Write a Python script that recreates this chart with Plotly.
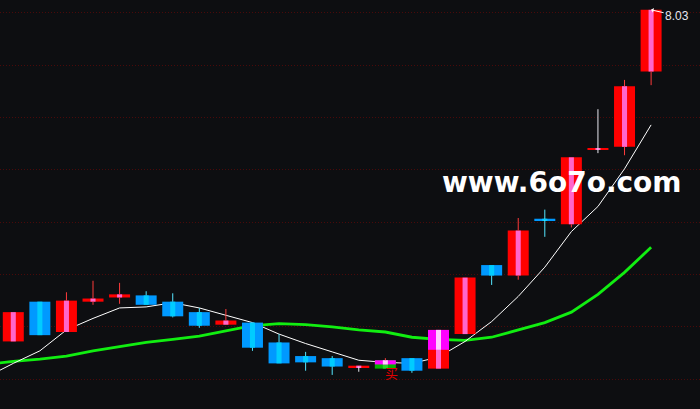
import plotly.graph_objects as go

# ---------------- data ----------------
idx = list(range(25))
opens  = [4.86, 5.24, 4.95, 5.24, 5.28, 5.30, 5.24, 5.14, 5.02, 5.04, 4.85, 4.72, 4.70,
          4.62, 4.60, 4.70, 4.60, 4.93, 5.59, 5.49, 6.03, 5.98, 6.70, 6.72, 7.44]
highs  = [5.14, 5.24, 5.33, 5.44, 5.42, 5.34, 5.32, 5.18, 5.17, 5.04, 4.93, 4.76, 4.72,
          4.62, 4.70, 4.70, 4.97, 5.47, 5.59, 6.04, 6.12, 6.62, 7.08, 7.36, 8.03]
lows   = [4.86, 4.92, 4.95, 5.21, 5.22, 5.21, 5.09, 4.99, 5.02, 4.77, 4.65, 4.58, 4.54,
          4.57, 4.60, 4.56, 4.60, 4.93, 5.40, 5.45, 5.86, 5.95, 6.66, 6.64, 7.31]
closes = [5.14, 4.92, 5.25, 5.27, 5.31, 5.21, 5.10, 5.01, 5.06, 4.80, 4.65, 4.66, 4.62,
          4.62, 4.68, 4.58, 4.97, 5.47, 5.49, 5.92, 6.02, 6.62, 6.70, 7.30, 8.03]

ma_x = [-1] + idx
ma5 = [4.52, 4.65, 4.77, 4.97, 5.08, 5.18, 5.19, 5.23, 5.18, 5.11, 5.04, 4.93, 4.84, 4.76,
       4.68, 4.66, 4.65, 4.71, 4.86, 5.05, 5.29, 5.57, 5.91, 6.15, 6.51, 6.93]
ma13 = [4.64, 4.67, 4.69, 4.72, 4.77, 4.81, 4.85, 4.88, 4.91, 4.96, 5.01, 5.03, 5.02, 5.00,
        4.97, 4.95, 4.90, 4.88, 4.87, 4.90, 4.97, 5.04, 5.14, 5.31, 5.52, 5.76]

signal_idx = [14, 16]
signal_split = [4.64, 4.78]

buy_idx = 14
buy_label = "买"
high_label = "8.03"
watermark = "www.6o7o.com"
grid_levels = [4.5, 5.0, 5.5, 6.0, 6.5, 7.0, 7.5, 8.0]

# ---------------- style ----------------
BG = "#0d0e11"
UP, UP_STRIPE, UP_WICK = "#ff0000", "#ff66cc", "#ff3b3b"
DN, DN_STRIPE, DN_WICK = "#0099ff", "#00ccff", "#55e6ff"
FLAT_WICK = "#e8e8f0"
MAG, MAG_STRIPE = "#ff00ff", "#ffccff"
body_override = {14: ("#00b400", "#22d622")}
BODY_W, STRIPE_W = 0.79, 0.19
MIN_H = 0.016
XR = [-0.5, 25.84]
YR = [4.214, 8.124]

fig = go.Figure()

# moving averages (base subplot -> drawn beneath candles)
fig.add_trace(go.Scatter(x=ma_x, y=ma13, mode="lines",
                         line=dict(color="#11ee11", width=2.8), hoverinfo="skip"))
fig.add_trace(go.Scatter(x=ma_x, y=ma5, mode="lines",
                         line=dict(color="#ffffff", width=1), hoverinfo="skip"))

# candle bodies
bases, heights, bcols, scols = [], [], [], []
for i in idx:
    o, c = opens[i], closes[i]
    if abs(c - o) < MIN_H:
        base, h = (o + c) / 2 - MIN_H / 2, MIN_H
    else:
        base, h = min(o, c), abs(c - o)
    bases.append(base)
    heights.append(h)
    if i in body_override:
        bc, sc = body_override[i]
    elif c >= o:
        bc, sc = UP, UP_STRIPE
    else:
        bc, sc = DN, DN_STRIPE
    bcols.append(bc)
    scols.append(sc)

# wicks (upper and lower segments only)
wick_groups = {}
for i in idx:
    o, c, h, l = opens[i], closes[i], highs[i], lows[i]
    if o == c:
        col = FLAT_WICK
    elif c > o:
        col = UP_WICK
    else:
        col = DN_WICK
    top, bot = max(o, c), min(o, c)
    xs, ys = wick_groups.setdefault(col, ([], []))
    if o == c:
        xs += [i, i, None]; ys += [l, h, None]
    else:
        if h > top:
            xs += [i, i, None]; ys += [top, h, None]
        if l < bot:
            xs += [i, i, None]; ys += [l, bot, None]
for col, (xs, ys) in wick_groups.items():
    fig.add_trace(go.Scatter(x=xs, y=ys, mode="lines", line=dict(color=col, width=1),
                             xaxis="x2", yaxis="y2", hoverinfo="skip"))

fig.add_trace(go.Bar(x=idx, y=heights, base=bases, width=BODY_W, marker_color=bcols,
                     marker_line_width=0, xaxis="x2", yaxis="y2", hoverinfo="skip"))
fig.add_trace(go.Bar(x=idx, y=heights, base=bases, width=STRIPE_W, marker_color=scols,
                     marker_line_width=0, xaxis="x2", yaxis="y2", hoverinfo="skip"))

# signal (magenta) upper part of special candles
sig_base = signal_split
sig_h = [closes[i] - s for i, s in zip(signal_idx, signal_split)]
fig.add_trace(go.Bar(x=signal_idx, y=sig_h, base=sig_base, width=BODY_W, marker_color=MAG,
                     marker_line_width=0, xaxis="x2", yaxis="y2", hoverinfo="skip"))
fig.add_trace(go.Bar(x=signal_idx, y=sig_h, base=sig_base, width=STRIPE_W, marker_color=MAG_STRIPE,
                     marker_line_width=0, xaxis="x2", yaxis="y2", hoverinfo="skip"))

annotations = [
    dict(x=buy_idx, y=lows[buy_idx], xref="x2", yref="y2", text=buy_label, showarrow=False,
         yanchor="top", xanchor="center", xshift=6, yshift=8,
         font=dict(family="Noto Sans CJK SC", size=13, color="#e00000")),
    dict(x=idx[-1], y=highs[-1], xref="x2", yref="y2", text=high_label, showarrow=True,
         ax=26, ay=6, arrowcolor="#ffffff", arrowwidth=1, arrowhead=1, arrowsize=0.8,
         font=dict(family="Liberation Sans", size=12, color="#e6e6f0")),
    dict(x=0.803, y=0.553, xref="paper", yref="paper", text="<b>" + watermark + "</b>",
         xanchor="center", yanchor="middle",
         showarrow=False, font=dict(family="DejaVu Sans", size=28, color="#ffffff")),
]

fig.update_layout(
    width=700, height=409, margin=dict(l=0, r=0, t=0, b=0),
    paper_bgcolor=BG, plot_bgcolor=BG, showlegend=False, barmode="overlay",
    xaxis=dict(range=XR, visible=False, showgrid=False, zeroline=False),
    yaxis=dict(range=YR, tickvals=grid_levels, showticklabels=False, ticks="",
               showgrid=True, gridcolor="#4a0a0a", griddash="1px,2px", gridwidth=1,
               zeroline=False, showline=False),
    xaxis2=dict(range=XR, overlaying="x", visible=False, showgrid=False, zeroline=False),
    yaxis2=dict(range=YR, overlaying="y", visible=False, showgrid=False, zeroline=False),
    annotations=annotations,
)

fig.write_html("out.html", config={"displayModeBar": False},
               post_script="document.body.style.margin='0';"
                           "document.body.style.background='" + BG + "';"
                           "document.body.style.overflow='hidden';")
